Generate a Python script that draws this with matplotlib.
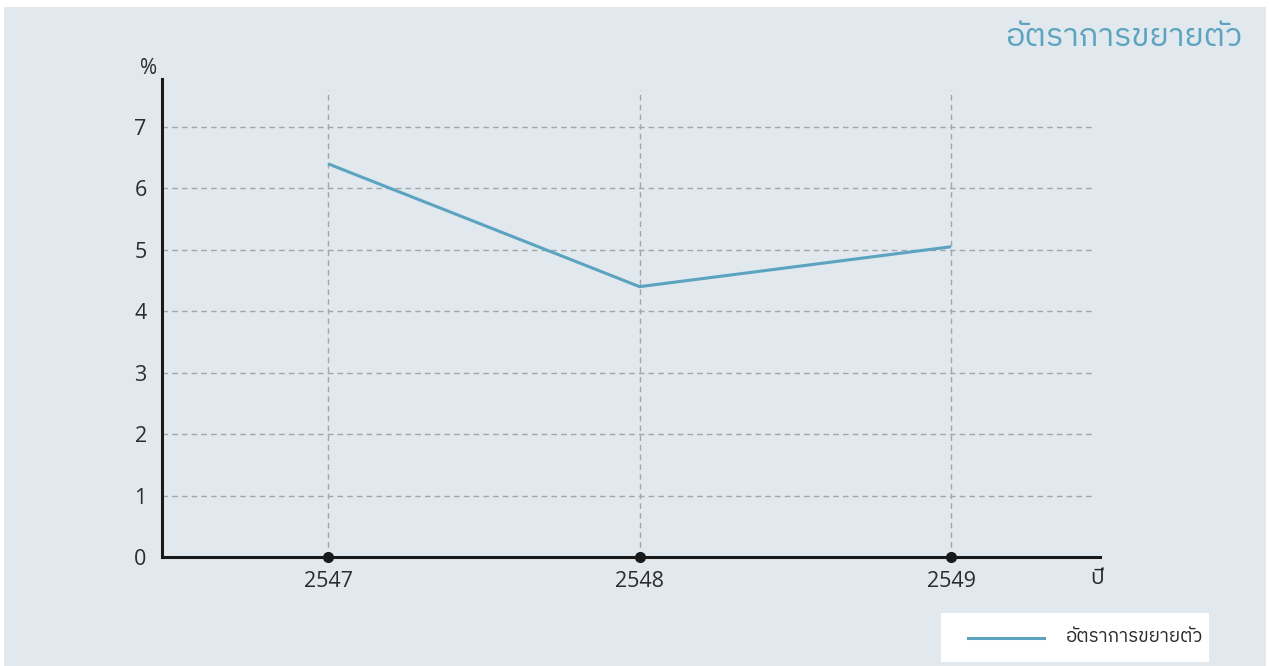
import matplotlib
matplotlib.use("Agg")
import matplotlib.pyplot as plt
from matplotlib import font_manager
from matplotlib.ft2font import FT2Font
from matplotlib.patches import Rectangle
from matplotlib.lines import Line2D

# ---------------- data ----------------
years = [2547, 2548, 2549]
growth = [6.4, 4.4, 5.05]
year_labels = ["2547", "2548", "2549"]
y_ticks = [0, 1, 2, 3, 4, 5, 6, 7]
series_name = "อัตราการขยายตัว"
title_text = "อัตราการขยายตัว"
x_unit = "ปี"
y_unit = "%"

# ---------------- fonts ----------------
def has_thai(path):
    try:
        return 0x0E2D in FT2Font(path).get_charmap()
    except Exception:
        return False

thai_fonts = []
for fe in font_manager.fontManager.ttflist:
    if fe.name not in thai_fonts and has_thai(fe.fname):
        thai_fonts.append(fe.name)
pref = sorted(thai_fonts, key=lambda n: (("Thai" not in n), ("Looped" in n), n))
families = ["Open Sans"] + pref[:2] + ["DejaVu Sans"]
plt.rcParams["font.family"] = families

BG = "#e1e8ee"
BLUE = "#5ba3bf"
TXT = "#2b2b2b"
GRID = "#a3a6a9"

W, H = 1269, 666
fig = plt.figure(figsize=(W / 100, H / 100), dpi=100, facecolor="white")

def fx(px):
    return px / W

def fy(py):
    return 1 - py / H

# background panel
fig.patches.append(Rectangle((fx(4), 0), fx(1266) - fx(4), fy(7), transform=fig.transFigure,
                             facecolor=BG, edgecolor="none", zorder=-10))

ax = fig.add_axes([fx(162), fy(557), fx(1100) - fx(162), fy(79) - fy(557)])
ax.set_zorder(5)
ax.set_facecolor("none")
ax.set_xlim(2546.467, 2549.478)
ax.set_ylim(0, 7.78)

for s in ["top", "right"]:
    ax.spines[s].set_visible(False)
for s in ["left", "bottom"]:
    ax.spines[s].set_color("#1a1a1a")
    ax.spines[s].set_linewidth(2.2)

ax.set_yticks(y_ticks)
ax.set_yticklabels([str(v) for v in y_ticks])
ax.set_xticks(years)
ax.set_xticklabels(year_labels)
ax.tick_params(axis="both", length=0, labelsize=15.5, colors=TXT)
ax.tick_params(axis="y", pad=11)
ax.tick_params(axis="x", pad=10)

# grid lines
ax.hlines(y_ticks[1:], 2546.467, 2549.456, colors=GRID, linestyles=(0, (4, 3)), linewidth=1, zorder=1)
ax.vlines(years, 0, 7.6, colors=GRID, linestyles=(0, (4, 3)), linewidth=1, zorder=1)

# series
ax.plot(years, growth, color=BLUE, linewidth=2.2, zorder=3, solid_capstyle="butt")
ax.plot(years, [0] * len(years), "o", color="#1a1a1a", markersize=7, clip_on=False, zorder=4)

# unit labels
fig.text(fx(149), fy(68), y_unit, ha="center", va="center", fontsize=15, color=TXT)
fig.text(fx(1097), fy(578), x_unit, ha="center", va="center", fontsize=16, color=TXT)

# title
fig.text(fx(1243), fy(38), title_text, ha="right", va="center", fontsize=23.3, color=BLUE)

# legend box
fig.patches.append(Rectangle((fx(941), fy(662)), fx(1209) - fx(941), fy(613) - fy(662),
                             transform=fig.transFigure, facecolor="white", edgecolor="none", zorder=1))
fig.lines.append(Line2D([fx(968), fx(1044)], [fy(638), fy(638)], transform=fig.transFigure,
                        color=BLUE, linewidth=2.2, zorder=2))
fig.text(fx(1066), fy(637), series_name, ha="left", va="center", fontsize=13.5, color=TXT)

fig.savefig("out.png", dpi=100, facecolor="white")
